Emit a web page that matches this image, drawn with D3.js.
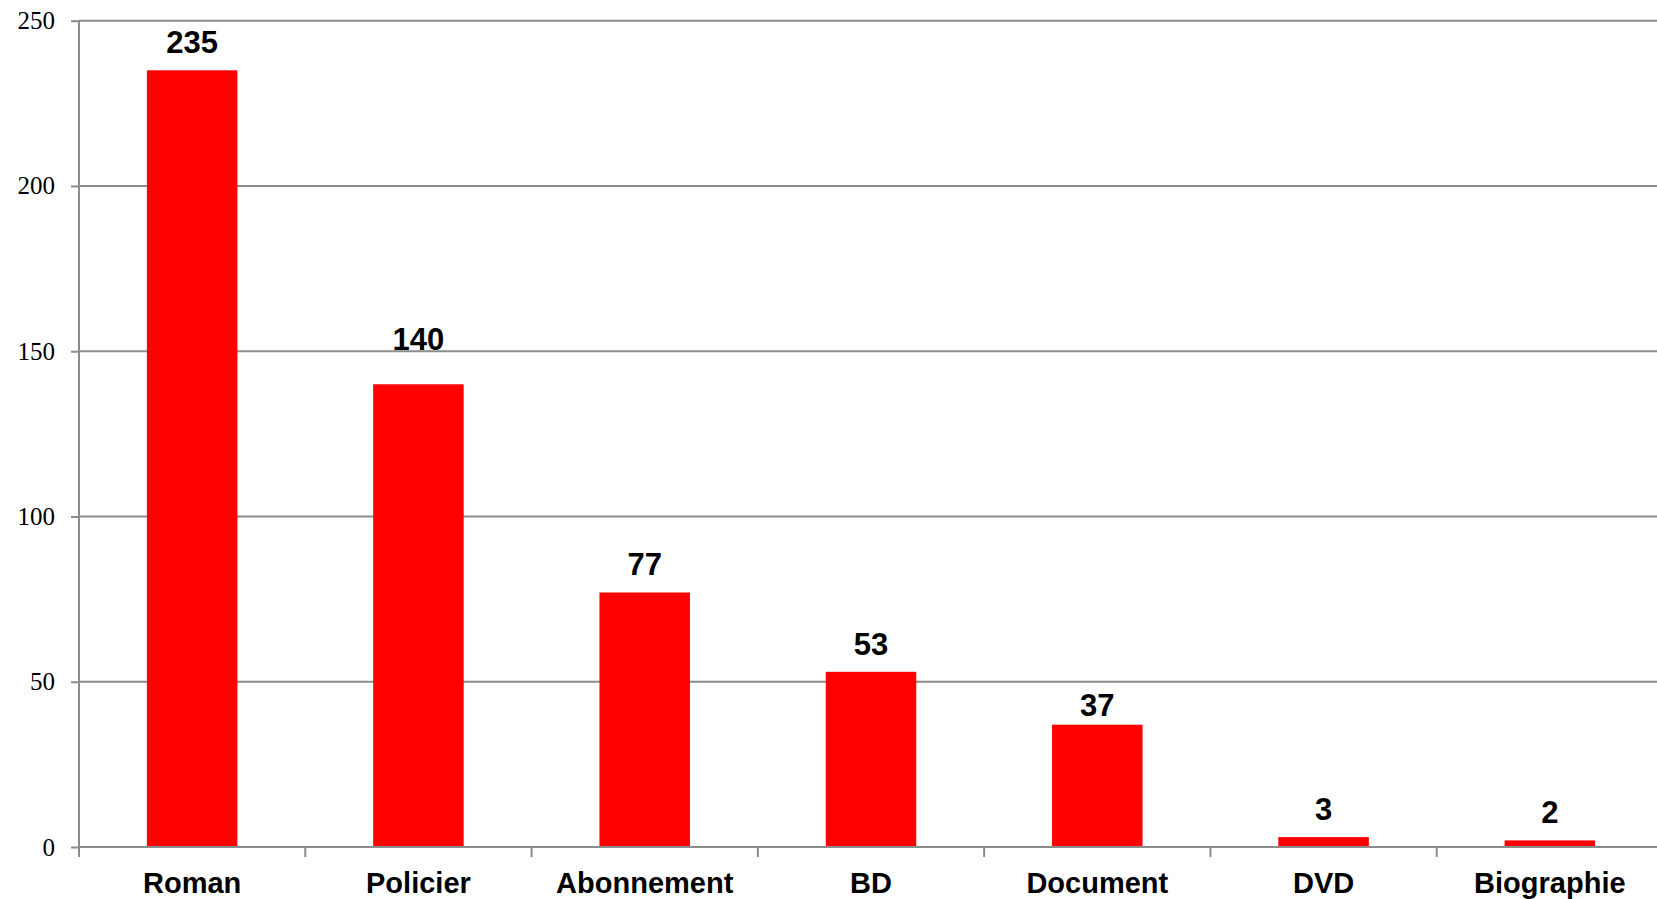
<!DOCTYPE html>
<html>
<head>
<meta charset="utf-8">
<script src="https://cdn.jsdelivr.net/npm/d3@7"></script>
<style>
  body { margin: 0; background: #fff; overflow: hidden; }
</style>
</head>
<body>
<div id="chart"></div>
<script>
const categories = ['Roman', 'Policier', 'Abonnement', 'BD', 'Document', 'DVD', 'Biographie'];
const values = [235, 140, 77, 53, 37, 3, 2];
const yTicks = [0, 50, 100, 150, 200, 250];

// label placement tweaks, as in the original (px, vertical)
const labelNudge = { Policier: -17, Document: 8 };

const W = 1657, H = 899;
const margin = { top: 20.7, right: 0, bottom: 52, left: 79 };
const plotW = 1584; // runs past the right edge like the original
const plotH = H - margin.top - margin.bottom;

const svg = d3.select('#chart').append('svg')
  .attr('width', W).attr('height', H);
const g = svg.append('g').attr('transform', `translate(${margin.left},${margin.top})`);

const x = d3.scaleBand().domain(categories).range([0, plotW]).paddingInner(0.6).paddingOuter(0.3);
const y = d3.scaleLinear().domain([0, 250]).range([plotH, 0]);
const step = x.step();

// gridlines
g.selectAll('.grid').data(yTicks.filter(d => d > 0)).enter().append('line')
  .attr('x1', 0).attr('x2', plotW)
  .attr('y1', d => y(d)).attr('y2', d => y(d))
  .attr('stroke', '#8c8c8c').attr('stroke-width', 2);

// bars
g.selectAll('.bar').data(values).enter().append('rect')
  .attr('x', (d, i) => x(categories[i]))
  .attr('y', d => y(d))
  .attr('width', x.bandwidth())
  .attr('height', d => plotH - y(d))
  .attr('fill', '#ff0000');

// y axis
const yAxis = g.append('g')
  .call(d3.axisLeft(y).tickValues(yTicks).tickSize(8).tickPadding(16).tickFormat(d3.format('d')));
yAxis.select('.domain').attr('stroke', '#8c8c8c').attr('stroke-width', 2).attr('d', `M0,${plotH}V0`);
yAxis.selectAll('.tick line').attr('stroke', '#8c8c8c').attr('stroke-width', 2);
yAxis.selectAll('.tick text')
  .style('font-family', '"Liberation Serif", "Times New Roman", serif')
  .style('font-size', '25px').style('fill', '#000');

// x axis: ticks at category boundaries
const xAxis = g.append('g').attr('transform', `translate(0,${plotH})`);
xAxis.append('line').attr('x1', 0).attr('x2', plotW)
  .attr('stroke', '#8c8c8c').attr('stroke-width', 2);
xAxis.selectAll('.bt').data(d3.range(categories.length + 1)).enter().append('line')
  .attr('x1', d => d * step).attr('x2', d => d * step)
  .attr('y1', 0).attr('y2', 10)
  .attr('stroke', '#8c8c8c').attr('stroke-width', 2);
xAxis.selectAll('.cl').data(categories).enter().append('text')
  .attr('x', d => x(d) + x.bandwidth() / 2)
  .attr('y', 46)
  .attr('text-anchor', 'middle')
  .style('font-family', '"Liberation Sans", Arial, sans-serif')
  .style('font-size', '29px').style('font-weight', 'bold')
  .text(d => d);

// value labels
g.selectAll('.vl').data(values).enter().append('text')
  .attr('x', (d, i) => x(categories[i]) + x.bandwidth() / 2)
  .attr('y', (d, i) => y(d) - 17 + (labelNudge[categories[i]] || 0))
  .attr('text-anchor', 'middle')
  .style('font-family', '"Liberation Sans", Arial, sans-serif')
  .style('font-size', '31px').style('font-weight', 'bold')
  .text(d => d);
</script>
</body>
</html>
